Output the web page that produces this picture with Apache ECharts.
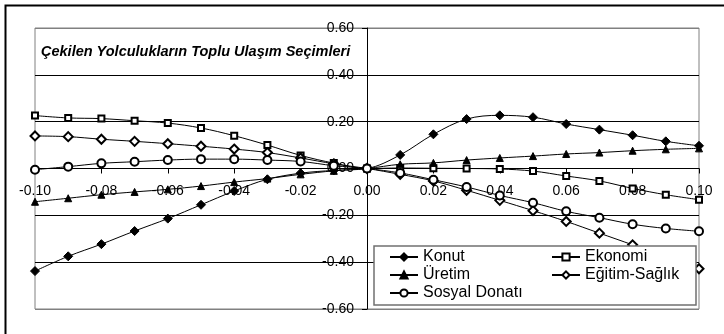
<!DOCTYPE html>
<html>
<head>
<meta charset="utf-8">
<script src="https://cdn.jsdelivr.net/npm/echarts@6/dist/echarts.min.js"></script>
<style>
html,body{margin:0;padding:0;background:#fff;}
#c{width:724px;height:334px;}
</style>
</head>
<body>
<div id="c"></div>
<script>
const titleText = 'Çekilen Yolculukların Toplu Ulaşım Seçimleri';
const xs = [-0.10,-0.09,-0.08,-0.07,-0.06,-0.05,-0.04,-0.03,-0.02,-0.01,0,0.01,0.02,0.03,0.04,0.05,0.06,0.07,0.08,0.09,0.10];
const seriesNames = ['Konut','Ekonomi','Üretim','Eğitim-Sağlık','Sosyal Donatı'];
const konut = [-0.438,-0.375,-0.323,-0.267,-0.214,-0.155,-0.096,-0.046,-0.020,-0.008,0,0.058,0.146,0.211,0.227,0.219,0.190,0.166,0.142,0.116,0.097];
const ekonomi = [0.226,0.216,0.213,0.204,0.194,0.173,0.140,0.100,0.056,0.023,0,0.002,0.001,0.000,-0.002,-0.011,-0.032,-0.053,-0.085,-0.112,-0.133];
const uretim = [-0.142,-0.127,-0.112,-0.100,-0.089,-0.075,-0.058,-0.043,-0.025,-0.010,0,0.018,0.024,0.036,0.045,0.053,0.062,0.068,0.076,0.082,0.086];
const egitim = [0.139,0.136,0.125,0.116,0.106,0.095,0.083,0.068,0.045,0.020,0,-0.025,-0.053,-0.093,-0.136,-0.180,-0.226,-0.276,-0.326,-0.377,-0.428];
const sosyal = [-0.005,0.008,0.022,0.029,0.036,0.040,0.040,0.036,0.030,0.012,0,-0.019,-0.048,-0.079,-0.115,-0.146,-0.183,-0.210,-0.238,-0.256,-0.268];

const seriesValues = [konut, ekonomi, uretim, egitim, sosyal];
const symbols = ['diamond','emptyRect','triangle','emptyDiamond','emptyCircle'];
const symbolSizes = [9,6,7,9,8];
const FONT = '"Liberation Sans", Arial, sans-serif';
const fmt = v => (Math.abs(v) < 1e-9 ? 0 : v).toFixed(2);

const GL = 35, GR = 25, GT = 28, GB = 25, W = 724, H = 334;
const plotW = W - GL - GR, plotH = H - GT - GB;

const chart = echarts.init(document.getElementById('c'), null, {renderer:'canvas'});
chart.setOption({
  animation:false,
  backgroundColor:'#fff',
  title:{
    text:titleText, left:41, top:44, padding:0,
    textStyle:{fontFamily:FONT, fontSize:14.5, fontWeight:'bold', fontStyle:'italic', color:'#000'}
  },
  grid:{left:GL, right:GR, top:GT, bottom:GB, containLabel:false, outerBoundsMode:'none',
        show:true, borderColor:'#808080', borderWidth:1, backgroundColor:'transparent'},
  xAxis:{
    type:'value', min:-0.1, max:0.1, interval:0.02, position:'bottom',
    offset: -plotH/2,
    axisLine:{onZero:false, lineStyle:{color:'#000', width:1}},
    axisTick:{show:true, inside:false, length:5, lineStyle:{color:'#000'}},
    axisLabel:{formatter:fmt, fontFamily:FONT, fontSize:14, color:'#000', margin:16},
    splitLine:{show:false}
  },
  yAxis:{
    type:'value', min:-0.6, max:0.6, interval:0.2, position:'left',
    offset: -plotW/2,
    axisLine:{onZero:false, lineStyle:{color:'#000', width:1}},
    axisTick:{show:true, inside:false, length:5, lineStyle:{color:'#000'}},
    axisLabel:{formatter:fmt, fontFamily:FONT, fontSize:14, color:'#000', margin:13},
    splitLine:{show:true, lineStyle:{color:['#808080','#000','#000','#000','#000','#000','#808080'], width:1}}
  },
  legend:{
    left:389, top:249, padding:0, width:330, z:20,
    itemWidth:28, itemHeight:9, itemGap:2,
    textStyle:{fontFamily:FONT, fontSize:16, color:'#000', width:126, lineHeight:16, overflow:'none'},
    data:seriesNames
  },
  graphic:[
    {type:'rect', z:10, shape:{x:374, y:246, width:322, height:59},
     style:{fill:'#fff', stroke:'#707070', lineWidth:1.5}},
    {type:'rect', z:10, shape:{x:5.5, y:5.5, width:740, height:360},
     style:{fill:'none', stroke:'#000', lineWidth:2}}
  ],
  series: seriesNames.map((name,i)=>({
    name, type:'line', z:2,
    data: xs.map((x,j)=>[x, seriesValues[i][j]]),
    symbol:symbols[i], symbolSize:symbolSizes[i],
    smooth:0.35,
    itemStyle:{color:'#000', borderColor:'#000', borderWidth:1},
    lineStyle:{color:'#000', width:1},
    emphasis:{disabled:true}
  }))
});
</script>
</body>
</html>
